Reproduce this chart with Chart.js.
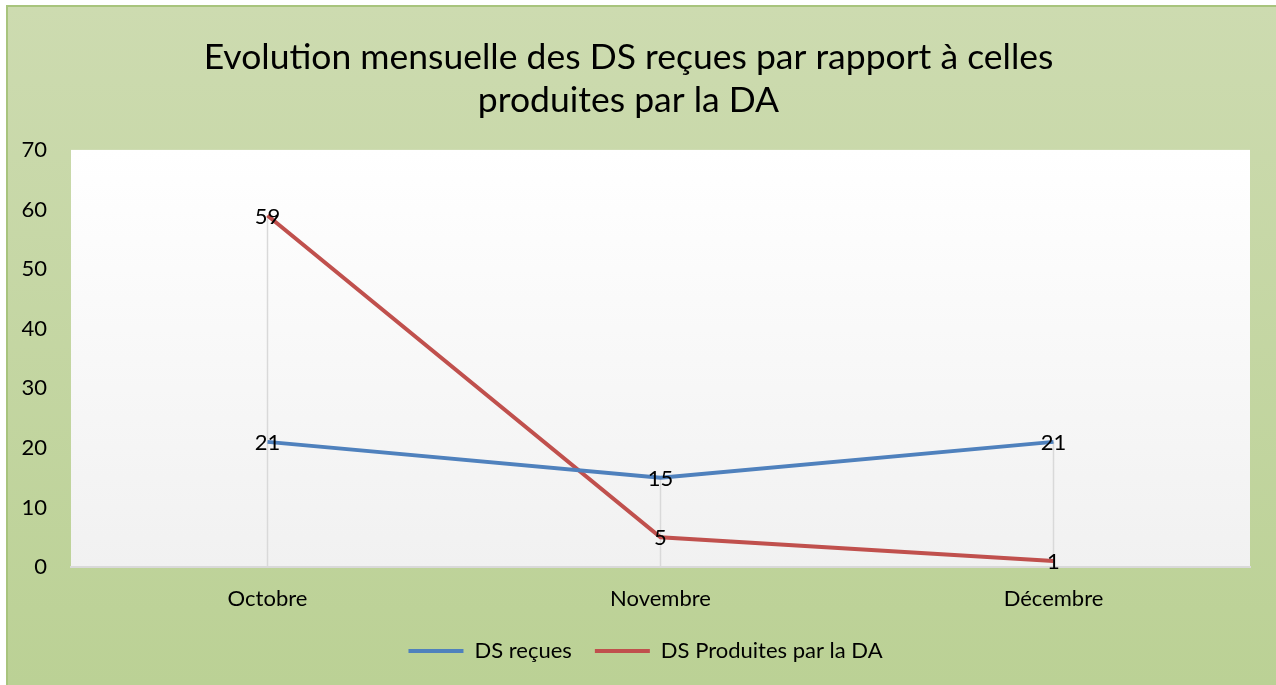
<!DOCTYPE html>
<html>
<head>
<meta charset="utf-8">
<script src="https://cdn.jsdelivr.net/npm/chart.js@4.4.1/dist/chart.umd.min.js"></script>
<style>
html,body{margin:0;padding:0;background:#ffffff;overflow:hidden;}
#wrap{position:absolute;left:0;top:0;width:1276px;height:685px;}
</style>
</head>
<body>
<div id="wrap"><canvas id="c" width="1276" height="685"></canvas></div>
<script>
const categories = ['Octobre', 'Novembre', 'Décembre'];
const dsRecues = [21, 15, 21];
const dsProduites = [59, 5, 1];
const seriesNames = ['DS reçues', 'DS Produites par la DA'];
const titleLines = ['Evolution mensuelle des DS reçues par rapport à celles', 'produites par la DA'];
const yMin = 0, yMax = 70, yStep = 10;

const FONT = 'Lato, "Open Sans", sans-serif';
const FS = 22;

const bgPlugin = {
  id: 'bg',
  afterLayout(chart) {
    if (chart.legend) { chart.legend.left += 17; chart.legend.right += 17; }
  },
  beforeDraw(chart) {
    const ctx = chart.ctx;
    const W = chart.width, H = chart.height;
    ctx.save();
    ctx.fillStyle = '#ffffff';
    ctx.fillRect(0, 0, W, H);
    const g = ctx.createLinearGradient(0, 6, 0, H);
    g.addColorStop(0, '#cddbb0');
    g.addColorStop(1, '#bbd195');
    ctx.fillStyle = g;
    ctx.fillRect(7, 6, W - 7, H - 6);
    ctx.strokeStyle = '#a8c47d';
    ctx.lineWidth = 2;
    ctx.beginPath();
    ctx.moveTo(7, H);
    ctx.lineTo(7, 6);
    ctx.lineTo(W, 6);
    ctx.stroke();
    const a = chart.chartArea;
    const pg = ctx.createLinearGradient(0, a.top, 0, a.bottom);
    pg.addColorStop(0, '#ffffff');
    pg.addColorStop(1, '#f1f1f1');
    ctx.fillStyle = pg;
    ctx.fillRect(a.left, a.top, a.right - a.left, a.bottom - a.top);
    ctx.restore();
  },
  beforeDatasetsDraw(chart) {
    const ctx = chart.ctx;
    const xs = chart.scales.x, ys = chart.scales.y;
    ctx.save();
    ctx.strokeStyle = '#d9d9d9';
    ctx.lineWidth = 1.5;
    categories.forEach((c, i) => {
      let maxV = -Infinity;
      chart.data.datasets.forEach(d => { if (d.data[i] > maxV) maxV = d.data[i]; });
      const x = xs.getPixelForValue(i);
      ctx.beginPath();
      ctx.moveTo(x, ys.getPixelForValue(maxV));
      ctx.lineTo(x, ys.getPixelForValue(0));
      ctx.stroke();
    });
    ctx.restore();
  },
  afterDatasetsDraw(chart) {
    const ctx = chart.ctx;
    ctx.save();
    ctx.fillStyle = '#000000';
    ctx.font = FS + 'px ' + FONT;
    ctx.textAlign = 'center';
    ctx.textBaseline = 'middle';
    chart.data.datasets.forEach((d, di) => {
      const meta = chart.getDatasetMeta(di);
      meta.data.forEach((pt, i) => {
        ctx.fillText(String(d.data[i]), pt.x, pt.y + 1);
      });
    });
    ctx.restore();
  }
};

new Chart(document.getElementById('c'), {
  type: 'line',
  data: {
    labels: categories,
    datasets: [
      { label: seriesNames[0], data: dsRecues, borderColor: '#4f81bd', backgroundColor: '#4f81bd', borderWidth: 4, pointRadius: 0, tension: 0 },
      { label: seriesNames[1], data: dsProduites, borderColor: '#c0504d', backgroundColor: '#c0504d', borderWidth: 4, pointRadius: 0, tension: 0 }
    ]
  },
  options: {
    responsive: false,
    animation: false,
    devicePixelRatio: 1,
    layout: { padding: { left: 7, right: 26, top: 0, bottom: 13 } },
    plugins: {
      title: {
        display: true,
        text: titleLines,
        color: '#000000',
        font: { family: FONT, size: 35.5, weight: 'normal', lineHeight: 1.21 },
        padding: { top: 36, bottom: 28 }
      },
      legend: {
        position: 'bottom',
        labels: {
          color: '#000000',
          font: { family: FONT, size: FS },
          usePointStyle: true,
          pointStyle: 'line',
          pointStyleWidth: 55,
          padding: 23
        }
      },
      tooltip: { enabled: false }
    },
    scales: {
      x: {
        offset: true,
        grid: { display: false, drawTicks: false },
        border: { display: true, color: '#d9d9d9', width: 2 },
        ticks: { color: '#000000', font: { family: FONT, size: FS }, padding: 19, maxRotation: 0 },
        afterFit(s) { s.height = 50; }
      },
      y: {
        min: yMin, max: yMax,
        grid: { display: false, drawTicks: false },
        border: { display: false },
        ticks: { stepSize: yStep, color: '#000000', font: { family: FONT, size: FS }, padding: 24 },
        afterFit(s) { s.width = 64; }
      }
    }
  },
  plugins: [bgPlugin]
});
</script>
</body>
</html>
